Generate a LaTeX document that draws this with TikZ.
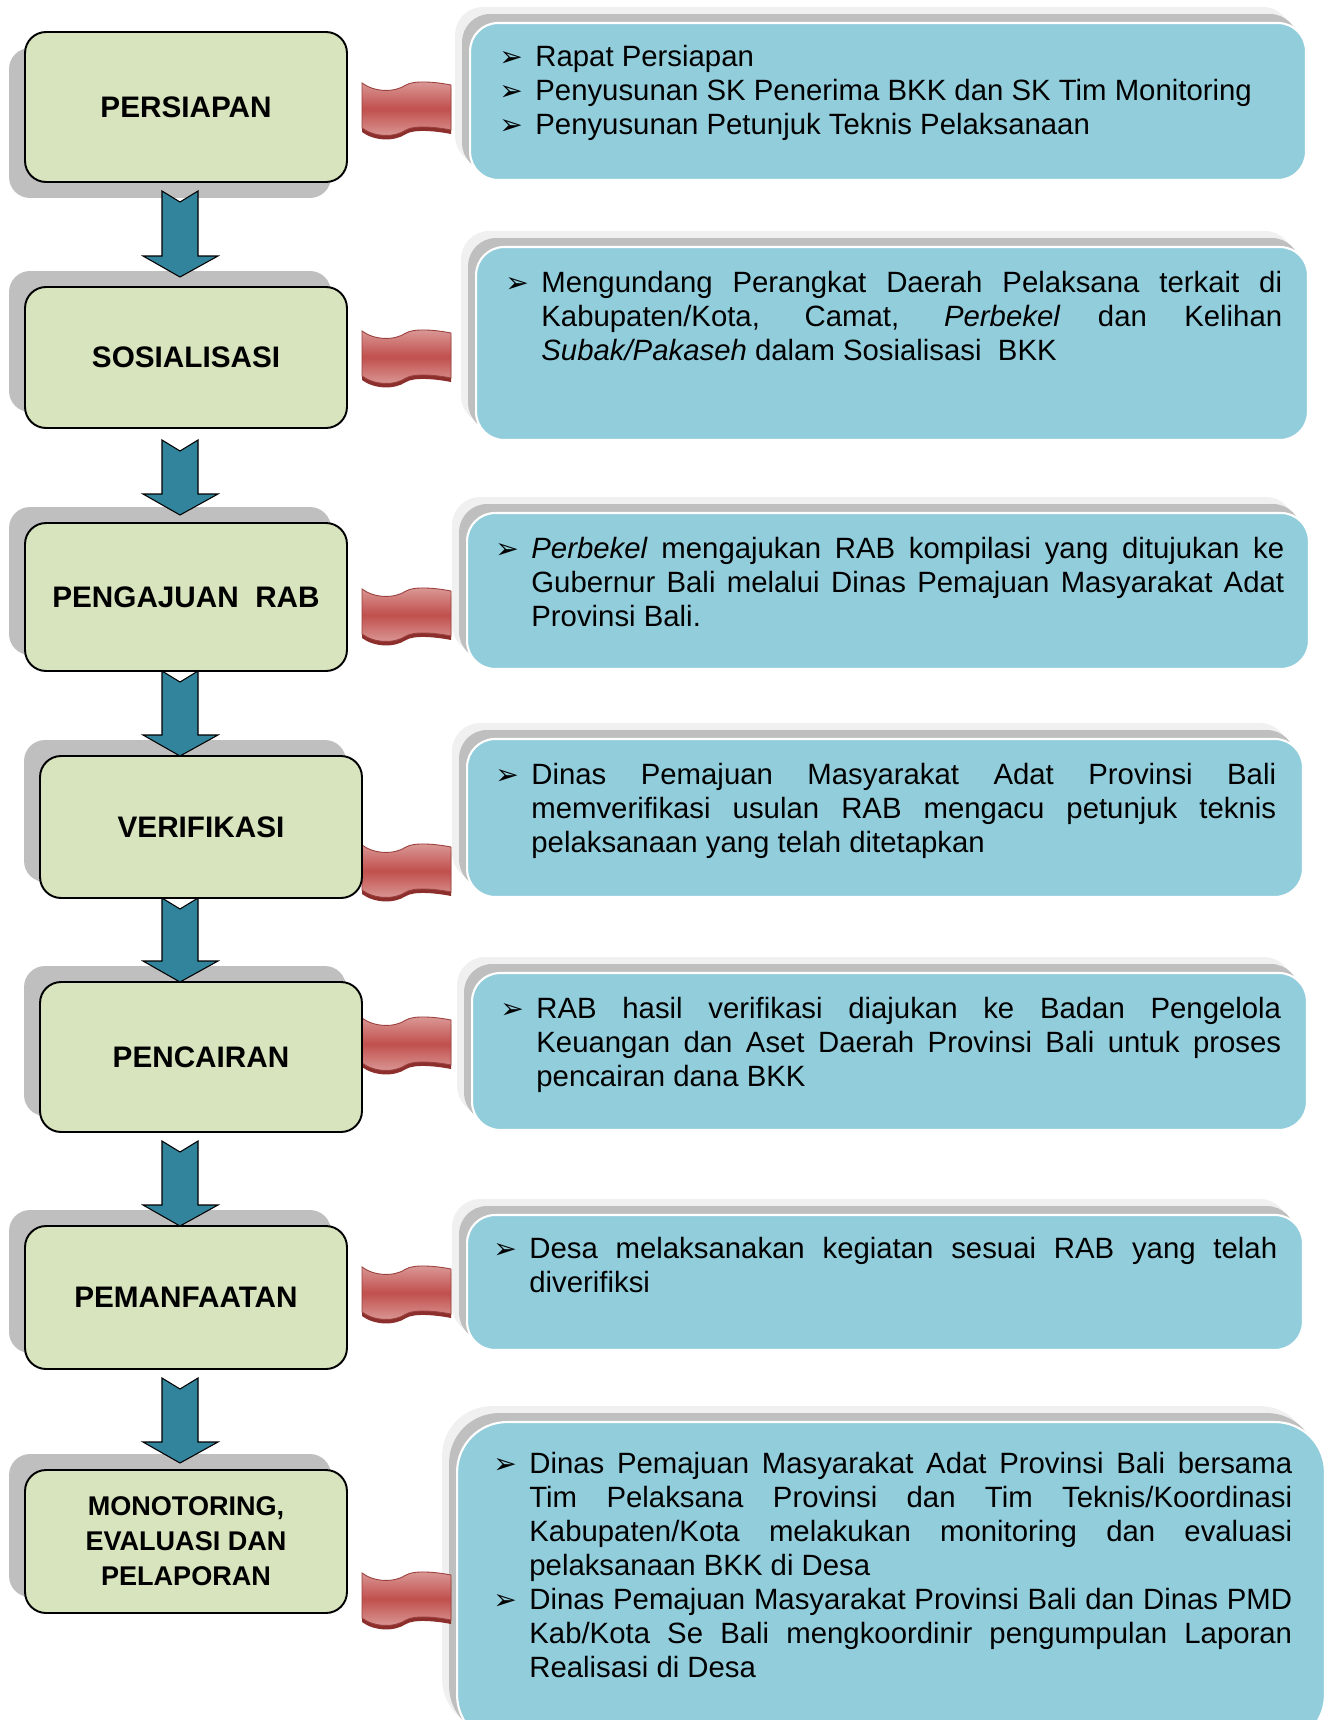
\documentclass[tikz,border=0pt]{standalone}
\usepackage{fontspec}
\setmainfont{Liberation Sans}
\newfontfamily\dejavu{DejaVu Sans}
\usetikzlibrary{shadows}

\definecolor{hijau}{HTML}{D7E4BD}
\definecolor{birumuda}{HTML}{92CDDC}
\definecolor{tosca}{HTML}{31849B}
\definecolor{merah}{HTML}{C0504D}
\definecolor{merahmuda}{HTML}{DC9C9A}
\definecolor{merahtua}{HTML}{8C2E2C}
\definecolor{abu}{HTML}{BFBFBF}
\definecolor{abumuda}{HTML}{F0F0F0}

\newcommand{\butir}{\par\noindent\hangindent=20.5pt\hangafter=1\makebox[20.5pt][l]{\smash{\dejavu\fontsize{16}{16}\selectfont ➢}}\strut}

\begin{document}
\begin{tikzpicture}[
       x=0.02cm, y=-0.02cm,
       tahap/.style={
         rounded corners=0.42cm,
         fill=hijau,
         draw=black,
         line width=1.1pt,
         minimum width=6.44cm,
         align=center,
         font=\bfseries\fontsize{16.9}{19.4}\selectfont
       },
       bayang/.style={
         general shadow={shadow xshift=-0.32cm, shadow yshift=#1, fill=abu}
       },
       kotak/.style={
         rounded corners=0.56cm,
         fill=birumuda,
         draw=white,
         line width=1.2pt,
         general shadow={shadow xshift=-0.30cm, shadow yshift=0.32cm, fill=abumuda},
         general shadow={shadow xshift=-0.16cm, shadow yshift=0.18cm, fill=abu}
       },
       teks/.style={
         anchor=north west,
         inner sep=0pt,
         align=justify,
         font=\fontsize{16.7}{19.35}\selectfont,
         execute at begin node={\hyphenpenalty=10000\tolerance=10000\hbadness=10000}
       },
       bendera/.pic={
         \fill[merahtua] (0,4) .. controls (12,13) and (32,14) .. (44,6) .. controls (52,1) and (74,3) .. (89,6)
           -- (89,51) .. controls (74,48) and (52,46) .. (44,51) .. controls (32,59) and (12,58) .. (0,49) -- cycle;
         \draw[draw=merah!80!black, line width=0.5pt, top color=merahmuda, bottom color=merahmuda, middle color=merah]
           (0,0) .. controls (12,9) and (32,10) .. (44,2) .. controls (52,-3) and (74,-1) .. (89,2)
           -- (89,47) .. controls (74,44) and (52,42) .. (44,47) .. controls (32,55) and (12,54) .. (0,45) -- cycle;
       },
       panah/.pic={
         \draw[fill=tosca, draw=black, line width=0.6pt] (-18,0) -- (0,11) -- (18,0) -- (18,{#1-21})
           -- (38,{#1-21}) -- (0,#1) -- (-37,{#1-21}) -- (-18,{#1-21}) -- cycle;
       }
     ]

       \useasboundingbox (0,0) rectangle (1330,1720);
       \clip (0,0) rectangle (1330,1720);
       \fill[white] (0,0) rectangle (1330,1720);

       \node (k1) at (888,101.5) [kotak, minimum width=16.72cm, minimum height=3.14cm]{};
       \node (k2) at (892,343.5) [kotak, minimum width=16.64cm, minimum height=3.86cm]{};
       \node (k3) at (888,591) [kotak, minimum width=16.84cm, minimum height=3.12cm]{};
       \node (k4) at (885,818) [kotak, minimum width=16.72cm, minimum height=3.16cm]{};
       \node (k5) at (889.5,1051.5) [kotak, minimum width=16.7cm, minimum height=3.14cm]{};
       \node (k6) at (885,1282.5) [kotak, minimum width=16.72cm, minimum height=2.7cm]{};
       \node (k7) at (891,1583.5) [kotak, rounded corners=1cm, minimum width=17.36cm, minimum height=6.46cm]{};

       \node (t1) at (499,32.6) [teks, text width=16cm]{\butir Rapat Persiapan
         \butir Penyusunan SK Penerima BKK dan SK Tim Monitoring
         \butir Penyusunan Petunjuk Teknis Pelaksanaan\par};
       \node (t2) at (505,258.6) [teks, text width=15.54cm]{\butir Mengundang Perangkat Daerah Pelaksana terkait di\linebreak
         Kabupaten/Kota, Camat, \textit{Perbekel} dan Kelihan\linebreak
         \textit{Subak/Pakaseh} dalam Sosialisasi\ \ BKK\par};
       \node (t3) at (495,524.6) [teks, text width=15.78cm]{\butir \textit{Perbekel} mengajukan RAB kompilasi yang ditujukan ke\linebreak
         Gubernur Bali melalui Dinas Pemajuan Masyarakat Adat\linebreak
         Provinsi Bali.\par};
       \node (t4) at (495,750.6) [teks, text width=15.62cm]{\butir Dinas Pemajuan Masyarakat Adat Provinsi Bali\linebreak
         memverifikasi usulan RAB mengacu petunjuk teknis\linebreak
         pelaksanaan yang telah ditetapkan\par};
       \node (t5) at (500,984.6) [teks, text width=15.62cm]{\butir RAB hasil verifikasi diajukan ke Badan Pengelola\linebreak
         Keuangan dan Aset Daerah Provinsi Bali untuk proses\linebreak
         pencairan dana BKK\par};
       \node (t6) at (493,1224.6) [teks, text width=15.68cm]{\butir Desa melaksanakan kegiatan sesuai RAB yang telah\linebreak
         diverifiksi\par};
       \node (t7) at (493,1439.6) [teks, text width=15.98cm]{\butir Dinas Pemajuan Masyarakat Adat Provinsi Bali bersama\linebreak
         Tim Pelaksana Provinsi dan Tim Teknis/Koordinasi\linebreak
         Kabupaten/Kota melakukan monitoring dan evaluasi\linebreak
         pelaksanaan BKK di Desa
         \butir Dinas Pemajuan Masyarakat Provinsi Bali dan Dinas PMD\linebreak
         Kab/Kota Se Bali mengkoordinir pengumpulan Laporan\linebreak
         Realisasi di Desa\par};

       \pic (f1) at (362,83) {bendera};
       \pic (f2) at (362,331) {bendera};
       \pic (f3) at (362,589) {bendera};
       \pic (f4) at (362,845) {bendera};
       \pic (f5) at (362,1018) {bendera};
       \pic (f6) at (362,1267) {bendera};
       \pic (f7) at (362,1573) {bendera};

       \node (p1) at (186,107) [tahap, minimum height=3cm, bayang=-0.32cm]{PERSIAPAN};
       \node (p2) at (186,357.5) [tahap, minimum height=2.82cm, bayang=0.32cm]{SOSIALISASI};
       \node (p3) at (186,597) [tahap, minimum height=2.96cm, bayang=0.32cm]{PENGAJUAN\ \ RAB};
       \node (p4) at (201,827) [tahap, minimum height=2.84cm, bayang=0.32cm]{VERIFIKASI};
       \node (p5) at (201,1057) [tahap, minimum height=3cm, bayang=0.32cm]{PENCAIRAN};
       \node (p6) at (186,1297.5) [tahap, minimum height=2.86cm, bayang=0.32cm]{PEMANFAATAN};
       \node (p7) at (186,1541.5) [tahap, minimum height=2.86cm, bayang=0.32cm,
         font=\bfseries\fontsize{15.4}{19.9}\selectfont]{MONOTORING,\\EVALUASI DAN\\PELAPORAN};

       \pic (a1) at (180,191) {panah=86};
       \pic (a2) at (180,440) {panah=75};
       \pic (a3) at (180,671) {panah=85};
       \pic (a4) at (180,898) {panah=84};
       \pic (a5) at (180,1141) {panah=85};
       \pic (a6) at (180,1378) {panah=85};

\end{tikzpicture}
\end{document}
